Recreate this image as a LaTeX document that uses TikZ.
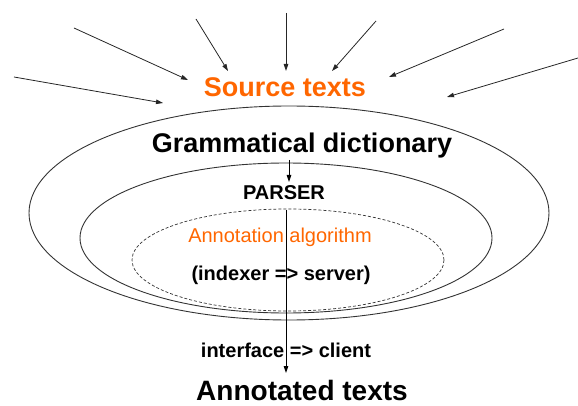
\documentclass[tikz,border=0pt]{standalone}
\usepackage{fontspec}
\setmainfont{Liberation Sans}
\usetikzlibrary{arrows.meta}
\definecolor{srcorange}{RGB}{255,102,0}
\tikzset{
  lbl/.style={anchor=base, inner sep=0pt, outer sep=0pt},
  bigbold/.style={lbl, font=\fontsize{27}{30}\selectfont\bfseries},
  midbold/.style={lbl, font=\fontsize{20}{24}\selectfont\bfseries},
  ring/.style={line width=0.9pt, draw=black!80},
  dashring/.style={line width=0.7pt, draw=black!80, dash pattern=on 3pt off 2pt},
  feed/.style={line width=0.8pt, draw=black!85, -{Triangle[length=7pt,width=4.5pt]}},
  flow/.style={line width=0.9pt, draw=black, -{Triangle[length=7pt,width=4.5pt]}}
}
\begin{document}
\begin{tikzpicture}[x=1pt,y=-1pt]
\useasboundingbox (0,0) rectangle (578,406);
% ellipses
\draw[ring] (289,213) ellipse [x radius=260, y radius=107];
\draw[ring] (286,238) ellipse [x radius=206, y radius=75];
\draw[dashring] (288,260) ellipse [x radius=156, y radius=51];
% texts
\node[bigbold, text=srcorange] (src) at (285,97) {Source texts};
\node[bigbold] (dict) at (302,153) {Grammatical dictionary};
\node[midbold] (parser) at (284,200) {PARSER};
\node[lbl, font=\fontsize{20}{24}\selectfont, text=srcorange] (algo) at (280,242) {Annotation algorithm};
\node[midbold] (idx) at (281,280) {(indexer => server)};
\node[midbold] (iface) at (286,357) {interface => client};
\node[lbl, font=\fontsize{28}{32}\selectfont\bfseries] (out) at (302,400) {Annotated texts};
% incoming source arrows
\coordinate (s1) at (14,77);   \coordinate (e1) at (163,103);
\coordinate (s2) at (74,28);   \coordinate (e2) at (188,80);
\coordinate (s3) at (196,19);  \coordinate (e3) at (228,71);
\coordinate (s4) at (286,13);  \coordinate (e4) at (286,71);
\coordinate (s5) at (376,21);  \coordinate (e5) at (332,71);
\coordinate (s6) at (504,29);  \coordinate (e6) at (389,77);
\coordinate (s7) at (578,58);  \coordinate (e7) at (447,97);
\foreach \i in {1,...,7} {\draw[feed] (s\i) -- (e\i);}
% dictionary -> parser
\coordinate (d1) at (289,160);
\coordinate (d2) at (289,182);
\draw[flow] (d1) -- (d2);
% parser -> annotated texts
\coordinate (p1) at (286,210);
\coordinate (p2) at (286,373);
\draw[flow] (p1) -- (p2);
\end{tikzpicture}
\end{document}
